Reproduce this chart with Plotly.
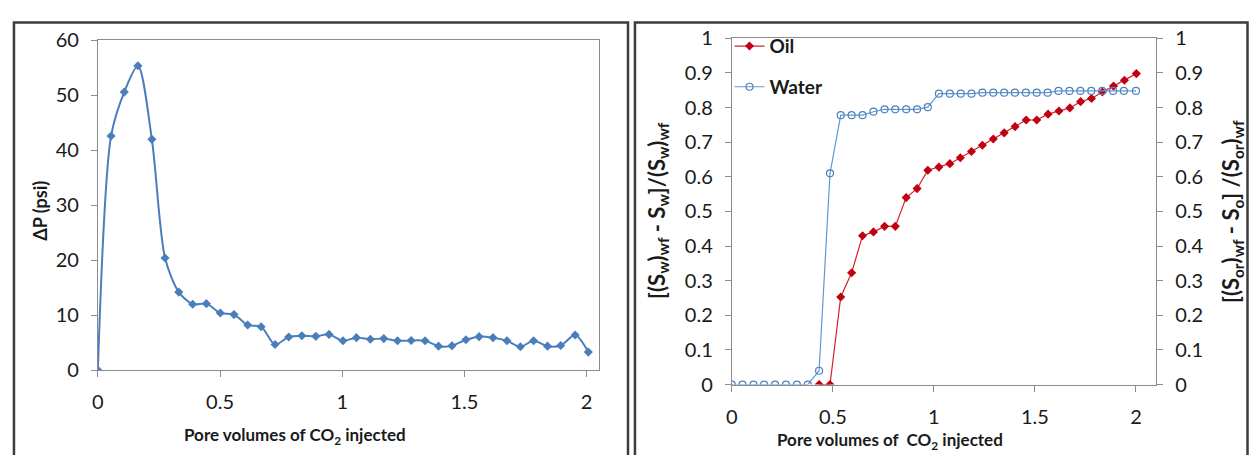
import plotly.graph_objects as go

# ---------------- data ----------------
pv_dp = [0, 0.054, 0.108, 0.164, 0.221, 0.275, 0.331, 0.388, 0.444, 0.501,
         0.557, 0.613, 0.668, 0.725, 0.781, 0.835, 0.892, 0.946, 1.003, 1.058,
         1.115, 1.17, 1.226, 1.282, 1.339, 1.394, 1.449, 1.506, 1.56, 1.617,
         1.674, 1.729, 1.783, 1.84, 1.894, 1.953, 2.007]
dp_psi = [0, 42.6, 50.6, 55.4, 42.0, 20.4, 14.2, 12.0, 12.1, 10.4,
          10.1, 8.2, 7.9, 4.66, 6.03, 6.26, 6.15, 6.5, 5.34, 5.91,
          5.63, 5.74, 5.34, 5.4, 5.34, 4.36, 4.43, 5.52, 6.09, 5.91,
          5.34, 4.25, 5.34, 4.36, 4.48, 6.38, 3.28]

pv_water = [0, 0.053, 0.107, 0.16, 0.214, 0.268, 0.322, 0.376, 0.432, 0.486,
            0.539, 0.593, 0.647, 0.701, 0.756, 0.809, 0.863, 0.917, 0.97, 1.025,
            1.079, 1.133, 1.186, 1.24, 1.294, 1.348, 1.401, 1.455, 1.509, 1.563,
            1.617, 1.671, 1.725, 1.779, 1.833, 1.887, 1.94, 2.0]
water = [0, 0, 0, 0, 0, 0, 0, 0, 0.04, 0.61,
         0.778, 0.778, 0.778, 0.788, 0.795, 0.795, 0.795, 0.795, 0.801, 0.840,
         0.840, 0.840, 0.840, 0.843, 0.843, 0.843, 0.843, 0.843, 0.843, 0.843,
         0.848, 0.848, 0.848, 0.848, 0.848, 0.848, 0.848, 0.848]

pv_oil = [0.432, 0.486, 0.539, 0.593, 0.647, 0.701, 0.756, 0.809, 0.863, 0.917,
          0.97, 1.025, 1.079, 1.131, 1.186, 1.24, 1.294, 1.348, 1.402, 1.457,
          1.509, 1.565, 1.619, 1.673, 1.726, 1.78, 1.834, 1.889, 1.943, 2.002]
oil = [0, 0, 0.253, 0.323, 0.43, 0.441, 0.457, 0.457, 0.54, 0.566,
       0.619, 0.628, 0.638, 0.655, 0.673, 0.691, 0.709, 0.727, 0.745, 0.764,
       0.764, 0.781, 0.790, 0.799, 0.817, 0.826, 0.845, 0.862, 0.879, 0.898]

left_x_ticks = [0, 0.5, 1, 1.5, 2]
left_y_ticks = [0, 10, 20, 30, 40, 50, 60]
right_y_ticks = [0, 0.1, 0.2, 0.3, 0.4, 0.5, 0.6, 0.7, 0.8, 0.9, 1]

# ---------------- layout helpers ----------------
W, H = 1249, 455
FONT = "Lato"
TXT = "#1a1a1a"
AX = "#8c8c8c"

def px(x):
    return x / W

def py(y):
    return 1 - y / H

fig = go.Figure()

fig.add_trace(go.Scatter(
    x=pv_dp, y=dp_psi, mode="lines+markers", showlegend=False,
    line=dict(color="#4A7EBB", width=2, shape="spline", smoothing=0.8),
    marker=dict(symbol="diamond", size=7, color="#4A7EBB"),
    xaxis="x", yaxis="y"))

fig.add_trace(go.Scatter(
    x=pv_oil, y=oil, mode="lines+markers", name="<b>Oil</b>",
    legendgroup="oil",
    line=dict(color="#D8202A", width=1.2),
    marker=dict(symbol="diamond", size=7, color="#C00010"),
    xaxis="x2", yaxis="y2"))

fig.add_trace(go.Scatter(
    x=pv_water, y=water, mode="lines+markers", name="<b>Water</b>",
    legendgroup="water",
    line=dict(color="#5B9BD5", width=1.2),
    marker=dict(symbol="circle-open", size=7, color="#4F81BD", line=dict(width=1.2)),
    xaxis="x2", yaxis="y2"))

# invisible trace so the secondary axis shows
fig.add_trace(go.Scatter(
    x=pv_water, y=water, mode="lines", showlegend=False, hoverinfo="skip",
    line=dict(color="rgba(0,0,0,0)", width=0),
    xaxis="x2", yaxis="y3"))

tickfont = dict(family=FONT, size=20, color=TXT)

common_axis = dict(showgrid=False, zeroline=False, showline=True, linecolor=AX,
                   linewidth=1, ticks="outside", ticklen=6, tickcolor=AX,
                   tickfont=tickfont)

fig.update_layout(
    width=W, height=H,
    margin=dict(l=0, r=0, t=0, b=0),
    paper_bgcolor="white", plot_bgcolor="white",
    font=dict(family=FONT, color=TXT),
    xaxis=dict(domain=[px(92.3), px(595.7)], anchor="y", range=[0, 2.05],
               tickvals=left_x_ticks, ticktext=[str(t) for t in left_x_ticks],
               mirror=True, ticklabelstandoff=8, **common_axis),
    yaxis=dict(domain=[py(377), py(29)], anchor="x", range=[0, 60],
               tickvals=left_y_ticks, mirror=True, ticklabelstandoff=8, **common_axis),
    xaxis2=dict(domain=[px(729.3), px(1155.7)], anchor="y2", range=[0, 2.1],
                tickvals=left_x_ticks, ticktext=[str(t) for t in left_x_ticks],
                mirror=True, ticklabelstandoff=8, **common_axis),
    yaxis2=dict(domain=[py(392.3), py(26.7)], anchor="x2", range=[0, 1],
                tickvals=right_y_ticks, ticktext=[f"{t:g}" for t in right_y_ticks],
                ticklabelstandoff=8, **common_axis),
    yaxis3=dict(overlaying="y2", side="right", anchor="x2", range=[0, 1],
                tickvals=right_y_ticks, ticktext=[f"{t:g}" for t in right_y_ticks],
                ticklabelstandoff=8, **common_axis),
    legend=dict(x=px(727), y=py(15), xanchor="left", yanchor="top",
                bgcolor="rgba(0,0,0,0)", font=dict(family=FONT, size=19, color=TXT),
                tracegroupgap=13, itemwidth=30),
    showlegend=True,
)

# panel borders
for x0, x1 in [(8, 625), (632, 1247.5)]:
    fig.add_shape(type="rect", xref="paper", yref="paper",
                  x0=px(x0), x1=px(x1), y0=-0.2, y1=py(10),
                  line=dict(color="#3c3c3c", width=2.5), fillcolor="rgba(0,0,0,0)",
                  layer="above")

ann_font = dict(family=FONT, size=17, color=TXT)
dp_font = dict(family=FONT, size=18, color=TXT)
big_font = dict(family=FONT, size=22, color=TXT)
annots = [
    dict(text="<b>ΔP (psi)</b>", x=px(34), y=py(209), textangle=-90, font=dp_font),
    dict(text="<b>Pore volumes of CO<sub>2</sub> injected</b>", x=px(290), y=py(447), font=ann_font),
    dict(text="<b>Pore volumes of  CO<sub>2</sub> injected</b>", x=px(888), y=py(452), font=ann_font),
    dict(text="<b>[(S<sub>w</sub>)<sub>wf</sub> - S<sub>w</sub>]/(S<sub>w</sub>)<sub>wf</sub></b>",
         x=px(655), y=py(208), textangle=-90, font=big_font),
    dict(text="<b>[(S<sub>or</sub>)<sub>wf</sub> - S<sub>o</sub>] /(S<sub>or</sub>)<sub>wf</sub></b>",
         x=px(1232), y=py(210), textangle=-90, font=big_font),
]
for a in annots:
    fig.add_annotation(xref="paper", yref="paper", showarrow=False,
                       xanchor="center", yanchor="middle", **a)

fig.write_html("out.html")
